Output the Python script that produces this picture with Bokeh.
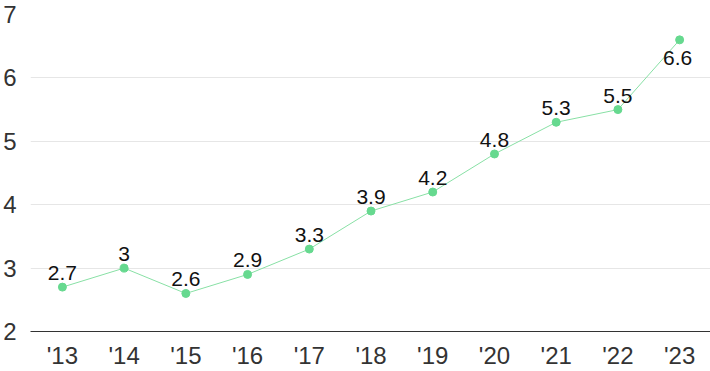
from bokeh.plotting import figure
from bokeh.models import ColumnDataSource, FixedTicker, Range1d
from bokeh.core.properties import value
from bokeh.embed import file_html
from bokeh.resources import INLINE

years = ["'13", "'14", "'15", "'16", "'17", "'18", "'19", "'20", "'21", "'22", "'23"]
values = [2.7, 3.0, 2.6, 2.9, 3.3, 3.9, 4.2, 4.8, 5.3, 5.5, 6.6]
labels = ["2.7", "3", "2.6", "2.9", "3.3", "3.9", "4.2", "4.8", "5.3", "5.5", "6.6"]
y_ticks = [2, 3, 4, 5, 6, 7]

FONT = "Liberation Sans"

xs = list(range(len(years)))

p = figure(width=710, height=371, x_range=Range1d(-0.517, 10.5), y_range=Range1d(2, 7),
           output_backend="svg", toolbar_location=None,
           min_border_left=28, min_border_right=0, min_border_top=14, min_border_bottom=40)
p.outline_line_color = None
p.background_fill_color = "white"

src = ColumnDataSource(dict(x=xs, y=values, lab=labels))
above = ColumnDataSource(dict(x=xs[:-1], y=values[:-1], lab=labels[:-1]))
below = ColumnDataSource(dict(x=xs[-1:], y=values[-1:], lab=labels[-1:]))

p.line("x", "y", source=src, line_color="#88e0a5", line_width=1)
p.scatter("x", "y", source=src, size=8, fill_color="#66d98f", line_color="#66d98f")

p.text("x", "y", text="lab", source=above, text_align="center", text_baseline="bottom",
       y_offset=-7, text_font=value(FONT), text_font_size="21px", text_color="#111111")
p.text("x", "y", text="lab", source=below, x_offset=-2, text_align="center",
       text_baseline="top", y_offset=11,
       text_font=value(FONT), text_font_size="21px", text_color="#111111")

p.xgrid.grid_line_color = None
p.ygrid.grid_line_color = "#e6e6e6"
p.ygrid.ticker = FixedTicker(ticks=y_ticks)

for ax in (p.xaxis, p.yaxis):
    ax.major_tick_line_color = None
    ax.minor_tick_line_color = None
    ax.major_tick_out = 0
    ax.major_tick_in = 0
    ax.minor_tick_out = 0
    ax.minor_tick_in = 0
    ax.major_label_text_font = FONT
    ax.major_label_text_font_size = "24px"
    ax.major_label_text_color = "#333333"

p.yaxis.ticker = FixedTicker(ticks=y_ticks)
p.yaxis.axis_line_color = None
p.yaxis.major_label_standoff = 14

p.xaxis.ticker = FixedTicker(ticks=xs)
p.xaxis.major_label_overrides = {i: y for i, y in zip(xs, years)}
p.xaxis.axis_line_color = "#333333"
p.xaxis.axis_line_width = 1
p.xaxis.major_label_standoff = 10

open("out.html", "w").write(file_html(p, INLINE))
